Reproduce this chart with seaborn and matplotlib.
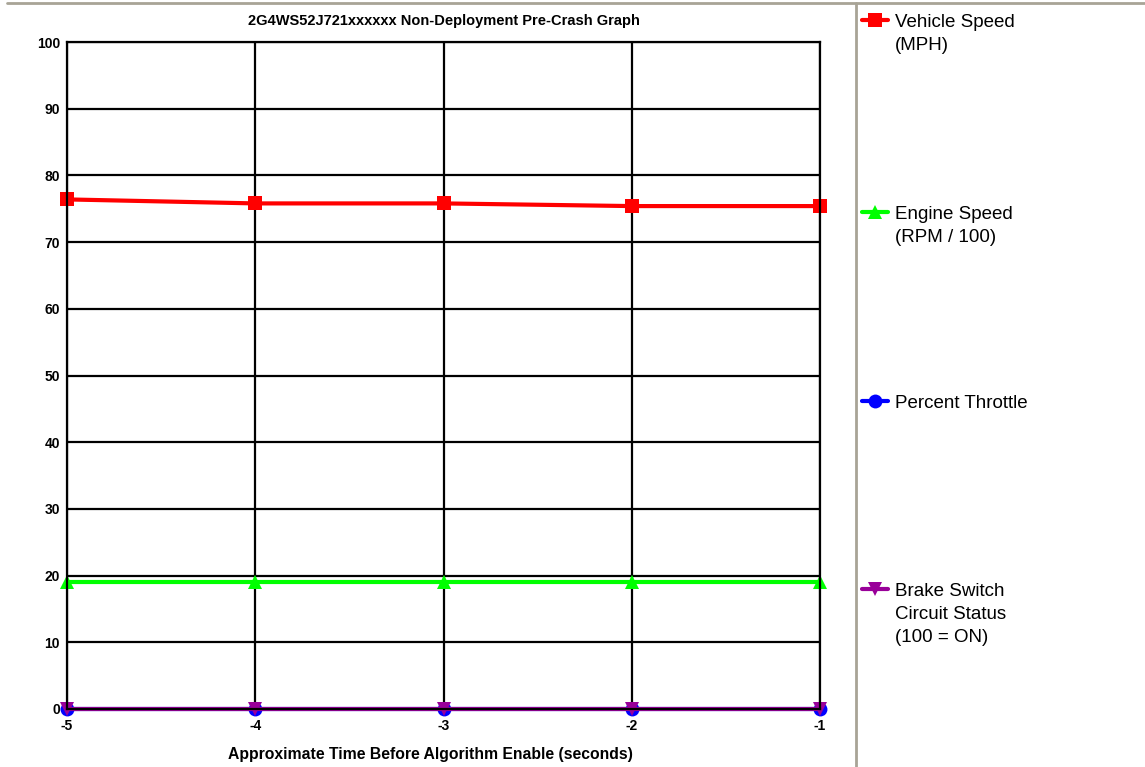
import matplotlib
matplotlib.use("Agg")
import matplotlib.pyplot as plt
from matplotlib.lines import Line2D
import numpy as np
import seaborn as sns
import pandas as pd

# data
times = [-5, -4, -3, -2, -1]
vehicle_speed = [76.4, 75.8, 75.8, 75.4, 75.4]
engine_speed = [19.0, 19.0, 19.0, 19.0, 19.0]
throttle = [0, 0, 0, 0, 0]
brake = [0, 0, 0, 0, 0]

series_names = ["Vehicle Speed\n(MPH)", "Engine Speed\n(RPM / 100)",
                "Percent Throttle", "Brake Switch\nCircuit Status\n(100 = ON)"]
colors = ["#ff0000", "#00ff00", "#0000ff", "#990099"]
markers = ["s", "^", "o", "v"]

df = pd.DataFrame({
    "time": times * 4,
    "value": vehicle_speed + engine_speed + throttle + brake,
    "series": np.repeat(series_names, len(times)),
})

sns.set_style("white")
plt.rcParams["font.family"] = ["Liberation Sans", "DejaVu Sans"]
plt.rcParams["axes.unicode_minus"] = False
plt.rcParams["text.color"] = "black"

W, H = 1145, 767
fig = plt.figure(figsize=(W / 100, H / 100), dpi=100)
ax = fig.add_axes([67 / W, 1 - 709 / H, (820 - 67) / W, (709 - 42) / H])

sns.lineplot(data=df, x="time", y="value", hue="series", style="series",
             palette=dict(zip(series_names, colors)),
             markers=dict(zip(series_names, markers)),
             dashes=False, linewidth=3, markersize=10, markeredgewidth=0,
             ax=ax, legend=False)

ax.set_xlim(-5, -1)
ax.set_ylim(0, 100)
ax.set_xticks(times)
ax.set_yticks(range(0, 101, 10))
ax.grid(True, color="black", linewidth=1.6)
ax.set_axisbelow(True)
for s in ax.spines.values():
    s.set_color("black")
    s.set_linewidth(1.6)
ax.tick_params(axis="y", length=4, width=1.6, color="black", labelsize=10, pad=1,
               labelcolor="black")
ax.tick_params(axis="x", length=0, labelsize=10, pad=7, labelcolor="black")
for lab in ax.get_xticklabels() + ax.get_yticklabels():
    lab.set_fontweight("bold")
ax.set_xlabel("Approximate Time Before Algorithm Enable (seconds)", fontsize=11.3,
              fontweight="bold", color="black")
ax.xaxis.set_label_coords((430 - 67) / 753, -(755 - 709) / 667)
ax.xaxis.label.set_va("center")
ax.set_ylabel("")
ax.set_title("2G4WS52J721xxxxxx Non-Deployment Pre-Crash Graph", fontsize=10.5,
             fontweight="bold", pad=12, color="black")
for line in ax.get_lines():
    line.set_clip_on(False)

# legend entries spaced down the right side, extra label lines below the first
legend_y = [22, 214, 403, 591]
line_step = 23.5
for name, c, m, y in zip(series_names, colors, markers, legend_y):
    parts = name.split("\n")
    h = Line2D([], [], color=c, marker=m, linewidth=3, markersize=10, markeredgewidth=0)
    fig.legend([h], [parts[0]], loc="center left", bbox_to_anchor=(862 / W, 1 - y / H),
               frameon=False, fontsize=13.5, handlelength=1.39, handletextpad=0.37,
               borderpad=0, borderaxespad=0, labelcolor="black")
    for i, extra in enumerate(parts[1:], start=1):
        fig.text(895 / W, 1 - (y + i * line_step) / H, extra, fontsize=13.5,
                 va="center", ha="left", color="black")

# gray frame lines of the original page
fig.add_artist(Line2D([7 / W, 1], [1 - 3 / H, 1 - 3 / H], color="#a8a496", linewidth=2))
fig.add_artist(Line2D([856 / W, 856 / W], [0, 1 - 3 / H], color="#a8a496", linewidth=2))

fig.savefig("out.png", dpi=100)
